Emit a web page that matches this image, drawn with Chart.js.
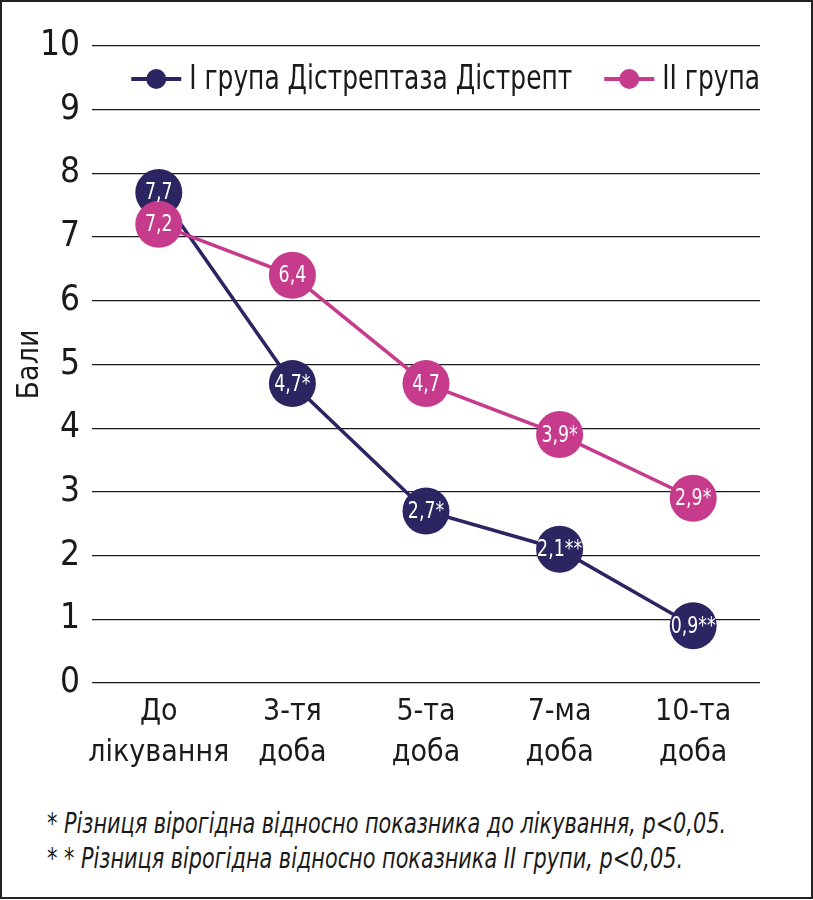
<!DOCTYPE html>
<html>
<head>
<meta charset="utf-8">
<script src="https://cdn.jsdelivr.net/npm/chart.js@4"></script>
<style>
  body { margin: 0; background: #fff; }
  #frame {
    position: relative;
    width: 813px; height: 899px;
    box-sizing: border-box;
    border: 2px solid #222;
    background: #fff;
    overflow: hidden;
  }
  #wrap { position: absolute; left: 0; top: 0; width: 809px; height: 790px; }
  #notes {
    position: absolute; left: 45px; top: 804px;
    font-family: "DejaVu Sans Condensed", "Liberation Sans Narrow", sans-serif;
    font-style: italic; font-size: 28px; line-height: 35px; color: #1a1a1a;
  }
  #notes span { display: inline-block; white-space: nowrap; transform-origin: 0 50%; }
</style>
</head>
<body>
<div id="frame">
  <div id="wrap"><canvas id="chart"></canvas></div>
  <div id="notes">
    <div><span id="note1">* Різниця вірогідна відносно показника до лікування, р&lt;0,05.</span></div>
    <div><span id="note2">* * Різниця вірогідна відносно показника ІІ групи, р&lt;0,05.</span></div>
  </div>
</div>
<script>
// données du graphique
var categories = [["До", "лікування"], ["3-тя", "доба"], ["5-та", "доба"], ["7-ма", "доба"], ["10-та", "доба"]];
var group1_values = [7.7, 4.7, 2.7, 2.1, 0.9];
var group2_values = [7.2, 6.4, 4.7, 3.9, 2.9];
var group1_labels = ["7,7", "4,7*", "2,7*", "2,1**", "0,9**"];
var group2_labels = ["7,2", "6,4", "4,7", "3,9*", "2,9*"];
var series_names = ["І група Дістрептаза Дістрепт", "ІІ група"];
var y_ticks = [0, 1, 2, 3, 4, 5, 6, 7, 8, 9, 10];

var FONT = '"DejaVu Sans Condensed", "Liberation Sans Narrow", sans-serif';
var NAVY = "#2b2662";
var PINK = "#c63b8b";

// notes en bas : texte resserré horizontalement (police étroite absente)
var n1 = document.getElementById("note1");
var n2 = document.getElementById("note2");
var sx = 679 / n1.getBoundingClientRect().width;
n1.style.transform = "scaleX(" + sx + ")";
n2.style.transform = "scaleX(" + sx + ")";

// valeurs dans les cercles
var pointLabels = {
  id: "pointLabels",
  afterDatasetsDraw: function(chart) {
    var ctx = chart.ctx;
    var all = [group1_labels, group2_labels];
    ctx.save();
    ctx.fillStyle = "#fff";
    ctx.font = "23px " + FONT;
    ctx.textAlign = "center";
    ctx.textBaseline = "middle";
    chart.data.datasets.forEach(function(ds, i) {
      chart.getDatasetMeta(i).data.forEach(function(pt, j) {
        ctx.save();
        ctx.translate(pt.x, pt.y + 1);
        ctx.scale(0.84, 1);
        ctx.fillText(all[i][j], 0, 0);
        ctx.restore();
      });
    });
    ctx.restore();
  }
};

// légende dans la zone du graphique (ligne + cercle)
var insideLegend = {
  id: "insideLegend",
  afterDraw: function(chart) {
    var ctx = chart.ctx;
    var area = chart.chartArea;
    var y = area.top + 33;
    ctx.save();
    ctx.font = "34px " + FONT;
    var k = 383 / ctx.measureText(chart.data.datasets[0].label).width;
    var items = chart.data.datasets.map(function(ds) {
      return { text: ds.label, color: ds.borderColor, w: ctx.measureText(ds.label).width * k };
    });
    var markW = 50, gap = 8, itemGap = 32;
    var total = 0;
    items.forEach(function(it, i) { total += markW + gap + it.w + (i > 0 ? itemGap : 0); });
    var x = area.right - total;
    items.forEach(function(it, i) {
      if (i > 0) x += itemGap;
      ctx.strokeStyle = it.color;
      ctx.lineWidth = 4;
      ctx.beginPath();
      ctx.moveTo(x, y);
      ctx.lineTo(x + markW, y);
      ctx.stroke();
      ctx.fillStyle = it.color;
      ctx.beginPath();
      ctx.arc(x + markW / 2, y, 10, 0, Math.PI * 2);
      ctx.fill();
      x += markW + gap;
      ctx.save();
      ctx.fillStyle = "#1a1a1a";
      ctx.textAlign = "left";
      ctx.textBaseline = "middle";
      ctx.translate(x, y + 1);
      ctx.scale(k, 1);
      ctx.fillText(it.text, 0, 0);
      ctx.restore();
      x += it.w;
    });
    ctx.restore();
  }
};

var myChart = new Chart(document.getElementById("chart"), {
  type: "line",
  data: {
    labels: categories,
    datasets: [{
      label: series_names[0],
      data: group1_values,
      borderColor: NAVY,
      backgroundColor: NAVY,
      borderWidth: 3.5,
      pointRadius: 23.5,
      pointHoverRadius: 23.5,
      pointBorderWidth: 0,
      order: 1
    }, {
      label: series_names[1],
      data: group2_values,
      borderColor: PINK,
      backgroundColor: PINK,
      borderWidth: 3.5,
      pointRadius: 23.5,
      pointHoverRadius: 23.5,
      pointBorderWidth: 0,
      order: 0
    }]
  },
  options: {
    responsive: true,
    maintainAspectRatio: false,
    animation: false,
    events: [],
    layout: { padding: { top: 44, right: 51, left: 0, bottom: 0 } },
    plugins: {
      legend: { display: false },
      tooltip: { enabled: false }
    },
    scales: {
      x: {
        offset: true,
        grid: { display: false, drawTicks: false },
        border: { display: false },
        ticks: { color: "#1a1a1a", font: { family: FONT, size: 30, lineHeight: 1.35 }, padding: 9, maxRotation: 0, autoSkip: false },
        afterFit: function(scale) { scale.height = 109; }
      },
      y: {
        min: 0,
        max: 10,
        afterBuildTicks: function(scale) { scale.ticks = y_ticks.map(function(v) { return { value: v }; }); },
        grid: { color: "#1a1a1a", lineWidth: 1.3, drawTicks: false },
        border: { display: false },
        ticks: { color: "#1a1a1a", font: { family: FONT, size: 35 }, padding: 12 },
        title: { display: true, text: "Бали", color: "#1a1a1a", font: { family: FONT, size: 30 }, padding: { top: 10, bottom: 0 } },
        afterFit: function(scale) { scale.width = 90; }
      }
    }
  },
  plugins: [pointLabels, insideLegend]
});
</script>
</body>
</html>
